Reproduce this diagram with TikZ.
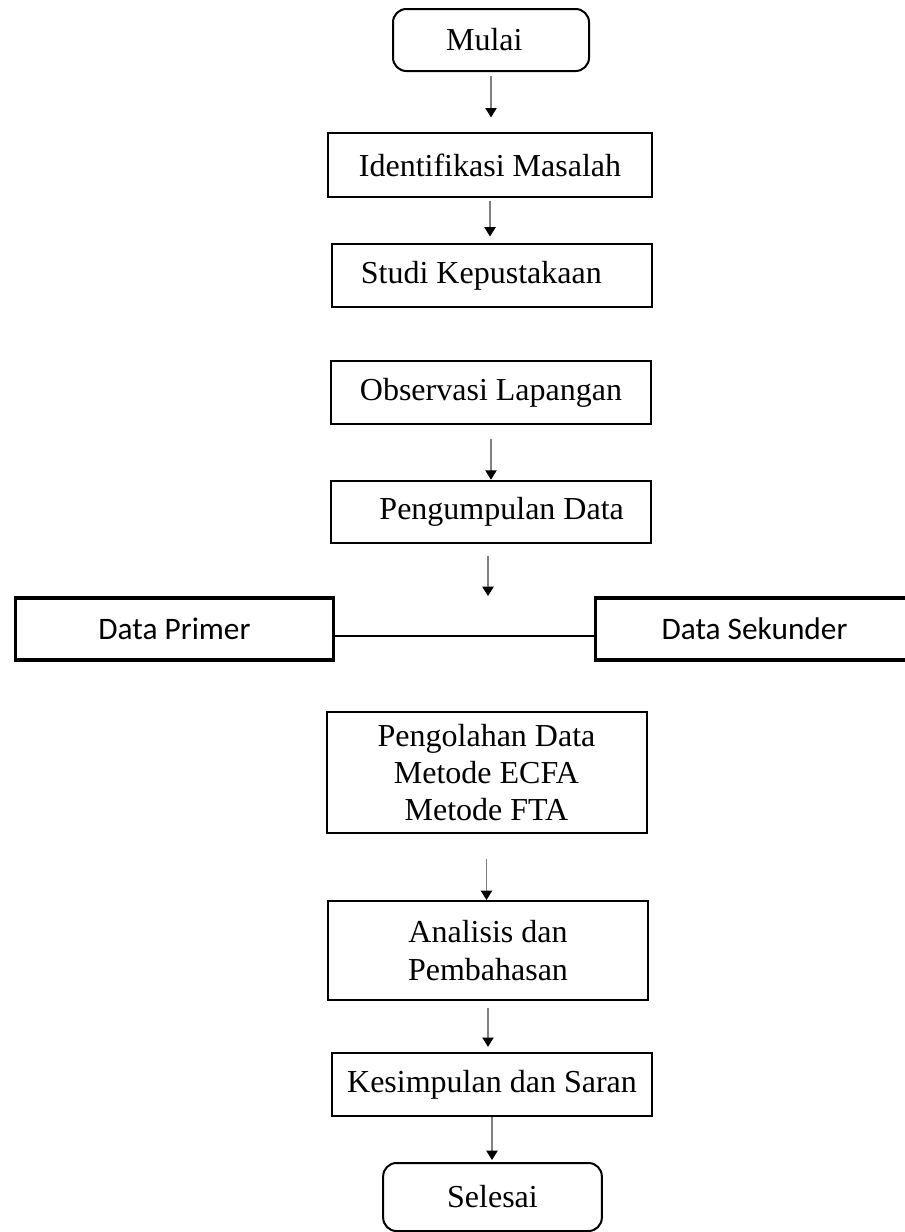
\documentclass[tikz,border=0pt]{standalone}
\usepackage{fontspec}
\setmainfont{Liberation Serif}
\newfontfamily\calibri{Carlito}
\usetikzlibrary{arrows.meta}

\tikzset{
    box/.style={draw, line width=1.5pt, minimum width=240pt, minimum height=47pt,
        align=center, inner sep=0pt, font=\fontsize{24}{28}\selectfont},
    term/.style={box, rounded corners=10pt},
    databox/.style={box, line width=2.3pt, minimum width=239pt, minimum height=46.5pt,
        font=\calibri\fontsize{23.5}{28}\selectfont},
    flow/.style={draw=gray, line width=0.8pt,
        -{Triangle[width=8.5pt, length=7pt, color=black, fill=black]}}
}

\begin{document}
\begin{tikzpicture}[x=0.75pt, y=-0.75pt]
            \useasboundingbox (0,0) rectangle (904,1232);

            \node[term, minimum width=147pt, minimum height=46.5pt] (mulai) at (491, 40) {Mulai\hspace{10pt}};
            \node[box, minimum width=243pt, minimum height=48pt] (ident) at (490, 165) {Identifikasi Masalah};
            \node[box] (studi)    at (492, 275.5)  {Studi Kepustakaan\hspace{16pt}};
            \node[box] (obs)      at (491, 392.5)  {Observasi Lapangan};
            \node[box] (kumpul)   at (491, 512)    {\hspace{16pt}Pengumpulan Data};
            \node[databox] (primer)   at (174.5, 629) {Data Primer};
            \node[databox] (sekunder) at (754.5, 629) {\raisebox{-4pt}{Data Sekunder}};
            \node[box, minimum height=90.75pt] (olah) at (486.5, 772.5)
                {Pengolahan Data\\Metode ECFA\\Metode FTA};
            \node[box, minimum height=74.25pt] (analisis) at (488, 950.5)
                {Analisis dan\\Pembahasan};
            \node[box] (simpul)   at (492, 1084.5) {Kesimpulan dan Saran};
            \node[term, minimum width=164pt, minimum height=51pt] (selesai) at (492.5, 1197) {Selesai};

            \coordinate (split) at (488, 596);

            % data primer -- data sekunder
            \draw[line width=1.5pt] ([yshift=-5pt]primer.east) -- ([yshift=-5pt]sekunder.west);

            \begin{scope}[flow]
                \draw[shorten <=3pt, shorten >=11pt] (mulai.south) -- (mulai.south |- ident.north);
                \draw[shorten <=2pt, shorten >=5pt]  (ident.south) -- (ident.south |- studi.north);
                \draw[shorten <=10.5pt]              (obs.south) -- (obs.south |- kumpul.north);
                \draw[shorten <=9pt]                 (kumpul.south -| split) -- (split);
                \draw[shorten <=19pt]                (olah.south) -- (olah.south |- analisis.north);
                \draw[shorten <=5pt, shorten >=4pt]  (analisis.south) -- (analisis.south |- simpul.north);
                \draw[shorten >=1.5pt]               (simpul.south) -- (simpul.south |- selesai.north);
            \end{scope}
        \end{tikzpicture}
\end{document}
